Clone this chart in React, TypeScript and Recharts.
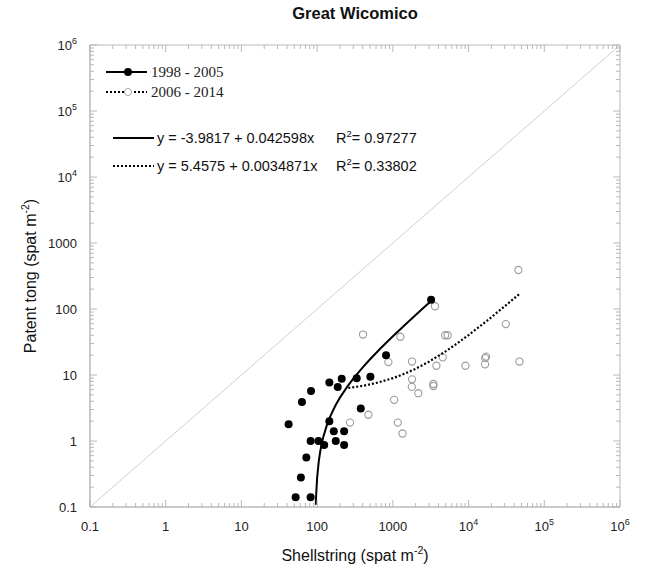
import React from 'react';
import { ComposedChart, Scatter, XAxis, YAxis, ReferenceLine, ReferenceArea, Legend } from 'recharts';

// 1998 - 2005 (filled)
const shellEarly = [42, 63, 83, 145, 211, 187, 333, 505, 813, 377, 145, 166, 227, 82, 104, 124, 176, 227, 72, 61, 52, 82, 3200];
const tongEarly = [1.8, 3.9, 5.7, 7.7, 8.8, 6.6, 8.9, 9.4, 20, 3.1, 2.0, 1.4, 1.4, 1.0, 1.0, 0.87, 1.0, 0.87, 0.56, 0.28, 0.14, 0.14, 138];

// 2006 - 2014 (open)
const shellLate = [404, 1256, 873, 1794, 1794, 1780, 2170, 1040, 475, 272, 1160, 1340, 45500, 3600, 4900, 5300, 31000, 4560, 3760, 9100, 16500, 17000, 16600, 47000, 3430, 3430];
const tongLate = [41, 38, 15.7, 16, 8.6, 6.6, 5.3, 4.2, 2.5, 1.9, 1.9, 1.3, 390, 110, 40, 40, 59, 18.5, 13.8, 13.8, 14.5, 19, 18, 16, 7.3, 6.8];

// regression curves
const fitEarlyX = [96, 97, 100, 105, 110, 120, 135, 150, 175, 200, 250, 300, 400, 500, 700, 1000, 1500, 2000, 2500, 3200];
const fitEarlyY = [0.108, 0.15, 0.278, 0.491, 0.704, 1.13, 1.77, 2.41, 3.47, 4.54, 6.67, 8.8, 13.06, 17.32, 25.84, 38.62, 59.92, 81.21, 102.5, 132.3];
const fitLateX = [258, 400, 600, 1000, 1500, 2000, 3000, 5000, 7000, 10000, 15000, 20000, 30000, 40000, 47000];
const fitLateY = [6.36, 6.85, 7.55, 8.95, 10.69, 12.43, 15.92, 22.89, 29.87, 40.33, 57.76, 75.2, 110.07, 144.94, 169.35];

const majorTicks = [0.1, 1, 10, 100, 1000, 1e4, 1e5, 1e6];
const tickBase = ['0.1', '1', '10', '100', '1000', '10', '10', '10'];
const tickExp = ['', '', '', '', '', '4', '5', '6'];

const legendNames = ['1998 - 2005', '2006 - 2014'];
const fitTexts = ['y = -3.9817 + 0.042598x', 'y = 5.4575 + 0.0034871x'];
const r2Texts = ['0.97277', '0.33802'];

const zip = (xs: number[], ys: number[]) => xs.map((x, i) => ({ x, y: ys[i] }));

const allTicks: number[] = [];
majorTicks.forEach((t, i) => {
  allTicks.push(t);
  if (i < majorTicks.length - 1) for (let m = 2; m <= 9; m++) allTicks.push(+(t * m).toPrecision(6));
});

const W = 646;
const H = 569;
const PLOT_TOP = 45;
const PLOT_RIGHT = 620;
const AXIS = '#b8b8b8';
const SANS = '"Liberation Sans", Arial, Helvetica, sans-serif';
const SERIF = '"Liberation Serif", "Times New Roman", serif';

const majorIndex = (v: number) => majorTicks.findIndex((t) => Math.abs(t - v) / t < 1e-6);

const TickLabel = ({ i, ...rest }: any) => (
  <text {...rest} fontFamily={SANS} fontSize={13} fill="#222">
    {tickBase[i]}
    {tickExp[i] && (
      <tspan dy={-6} fontSize={9}>
        {tickExp[i]}
      </tspan>
    )}
  </text>
);

const renderXTick = (props: any) => {
  const { x, y, payload } = props;
  const i = majorIndex(payload.value);
  const len = i >= 0 ? 7 : 4;
  return (
    <g>
      <line x1={x} x2={x} y1={y} y2={y - len} stroke={AXIS} />
      <line x1={x} x2={x} y1={PLOT_TOP} y2={PLOT_TOP + len} stroke={AXIS} />
      {i >= 0 && <TickLabel i={i} x={x} y={y + 24} textAnchor="middle" />}
    </g>
  );
};

const renderYTick = (props: any) => {
  const { x, y, payload } = props;
  const i = majorIndex(payload.value);
  const len = i >= 0 ? 7 : 4;
  return (
    <g>
      <line x1={x} x2={x + len} y1={y} y2={y} stroke={AXIS} />
      <line x1={PLOT_RIGHT} x2={PLOT_RIGHT - len} y1={y} y2={y} stroke={AXIS} />
      {i >= 0 && <TickLabel i={i} x={x - 13} y={y + 5} textAnchor="end" />}
    </g>
  );
};

const LegendBox = () => (
  <svg width={W} height={200} style={{ display: 'block' }}>
    <line x1={106} x2={147} y1={72} y2={72} stroke="#000" strokeWidth={2} />
    <circle cx={128} cy={72} r={4} fill="#000" />
    <text x={151} y={77} fontFamily={SERIF} fontSize={15} fill="#222">{legendNames[0]}</text>
    <line x1={106} x2={147} y1={92} y2={92} stroke="#000" strokeWidth={2} strokeDasharray="2 2" />
    <circle cx={128} cy={92} r={3.6} fill="#fff" stroke="#aaa" />
    <text x={151} y={97} fontFamily={SERIF} fontSize={15} fill="#222">{legendNames[1]}</text>

    <line x1={113} x2={154} y1={138} y2={138} stroke="#000" strokeWidth={2} />
    <text x={157} y={143} fontFamily={SANS} fontSize={14.5} fill="#111">{fitTexts[0]}</text>
    <text x={336} y={143} fontFamily={SANS} fontSize={14.5} fill="#111">
      R<tspan dy={-6} fontSize={9.5}>2</tspan>
      <tspan dy={6}>= {r2Texts[0]}</tspan>
    </text>
    <line x1={113} x2={154} y1={166} y2={166} stroke="#000" strokeWidth={2} strokeDasharray="2 2" />
    <text x={157} y={171} fontFamily={SANS} fontSize={14.5} fill="#111">{fitTexts[1]}</text>
    <text x={336} y={171} fontFamily={SANS} fontSize={14.5} fill="#111">
      R<tspan dy={-6} fontSize={9.5}>2</tspan>
      <tspan dy={6}>= {r2Texts[1]}</tspan>
    </text>
  </svg>
);

const FilledDot = (p: any) => <circle cx={p.cx} cy={p.cy} r={4} fill="#000" />;
const OpenDot = (p: any) => <circle cx={p.cx} cy={p.cy} r={3.6} fill="none" stroke="#9a9a9a" strokeWidth={1.1} />;
const NoDot = () => <g />;

export default function App() {
  return (
    <div style={{ position: 'absolute', left: 0, top: 0, width: W, height: H, background: '#fff' }}>
      <div
        style={{
          position: 'absolute',
          left: 0,
          top: 4,
          width: 710,
          textAlign: 'center',
          fontFamily: SANS,
          fontWeight: 'bold',
          fontSize: 16.5,
          color: '#111',
        }}
      >
        Great Wicomico
      </div>
      <ComposedChart width={W} height={H} margin={{ top: PLOT_TOP, right: W - PLOT_RIGHT, bottom: 0, left: 0 }}>
        <XAxis
          type="number"
          dataKey="x"
          scale="log"
          domain={[0.1, 1e6]}
          ticks={allTicks}
          interval={0}
          allowDataOverflow
          height={62}
          tickSize={0}
          tickMargin={0}
          tickLine={false}
          axisLine={{ stroke: AXIS }}
          tick={renderXTick}
        />
        <YAxis
          type="number"
          dataKey="y"
          scale="log"
          domain={[0.1, 1e6]}
          ticks={allTicks}
          interval={0}
          allowDataOverflow
          width={90}
          tickSize={0}
          tickMargin={0}
          tickLine={false}
          axisLine={{ stroke: AXIS }}
          tick={renderYTick}
        />
        <ReferenceArea x1={0.1} x2={1e6} y1={0.1} y2={1e6} fill="none" stroke={AXIS} ifOverflow="visible" />
        <ReferenceLine
          segment={[{ x: 0.1, y: 0.1 }, { x: 1e6, y: 1e6 }]}
          stroke="#cfcfcf"
          strokeWidth={1}
        />
        <Scatter data={zip(shellLate, tongLate)} shape={OpenDot} isAnimationActive={false} />
        <Scatter
          data={zip(fitLateX, fitLateY)}
          shape={NoDot}
          line={{ stroke: '#000', strokeWidth: 2.2, strokeDasharray: '2 2' }}
          isAnimationActive={false}
        />
        <Scatter data={zip(shellEarly, tongEarly)} shape={FilledDot} isAnimationActive={false} />
        <Scatter
          data={zip(fitEarlyX, fitEarlyY)}
          shape={NoDot}
          line={{ stroke: '#000', strokeWidth: 2 }}
          isAnimationActive={false}
        />
        <Legend
          layout="vertical"
          align="center"
          verticalAlign="middle"
          wrapperStyle={{ left: 0, top: 0, width: W, height: 200 }}
          content={() => <LegendBox />}
        />
      </ComposedChart>
      <svg width={W} height={H} style={{ position: 'absolute', left: 0, top: 0, pointerEvents: 'none' }}>
        <text x={355} y={561} textAnchor="middle" fontFamily={SANS} fontSize={16} fill="#111">
          Shellstring (spat m<tspan dy={-7} fontSize={10.5}>-2</tspan>
          <tspan dy={7}>)</tspan>
        </text>
        <text
          x={0}
          y={0}
          transform="translate(36, 276) rotate(-90)"
          textAnchor="middle"
          fontFamily={SANS}
          fontSize={16}
          fill="#111"
        >
          Patent tong (spat m<tspan dy={-7} fontSize={10.5}>-2</tspan>
          <tspan dy={7}>)</tspan>
        </text>
      </svg>
    </div>
  );
}
